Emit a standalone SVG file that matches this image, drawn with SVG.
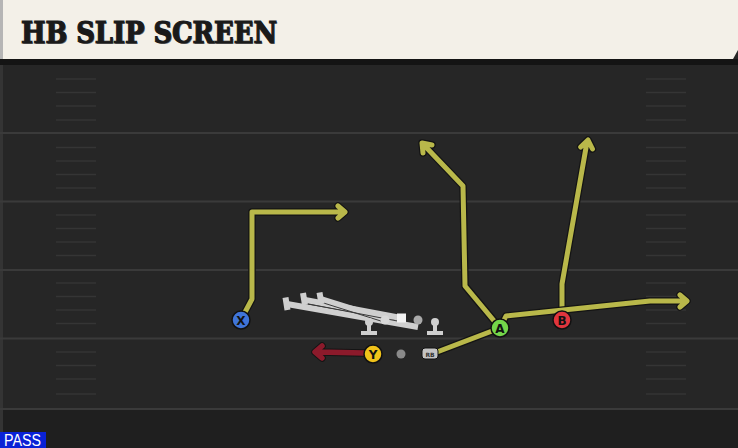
<svg xmlns="http://www.w3.org/2000/svg" width="738" height="448" viewBox="0 0 738 448">
<defs>
<style>
.yard{stroke:#3a3a3a;stroke-width:2;fill:none}
.hash{stroke:#353535;stroke-width:1.6;fill:none}
.ro{fill:none;stroke:#141414;stroke-width:7.5;stroke-linejoin:round;stroke-linecap:round}
.ry{fill:none;stroke:#b9b84a;stroke-width:5;stroke-linejoin:round;stroke-linecap:round}
.rr{fill:none;stroke:#8c1a2b;stroke-width:5.5;stroke-linejoin:round;stroke-linecap:round}
.ol{fill:none;stroke:#cfcfcf;stroke-width:6;stroke-linecap:butt}
.oll{fill:none;stroke:#3a3a3a;stroke-width:1}
.lm{fill:#cfcfcf}
.pc{stroke:#111;stroke-width:1.5}
.pl{font-family:"DejaVu Sans","Liberation Sans",sans-serif;font-weight:bold;font-size:12px;fill:#111;text-anchor:middle}
</style>
</defs>
<rect x="0" y="0" width="738" height="448" fill="#262626"/>
<rect x="0" y="409" width="738" height="39" fill="#1f1f1f"/>
<rect x="0" y="59" width="3" height="373" fill="#343434"/>
<rect x="0" y="59" width="738" height="6" fill="#141414"/>
<g id="header">
<path d="M0,0 H738 V50 L733,59 H0 Z" fill="#f3f0e8"/>
<rect x="0" y="0" width="3" height="59" fill="#b5b5b5"/>
<text x="21" y="43" font-family="DejaVu Serif, serif" font-weight="bold" font-size="29" fill="#6f6f6f" textLength="256" lengthAdjust="spacingAndGlyphs" transform="translate(1,1)">HB SLIP SCREEN</text>
<text x="21" y="43" font-family="DejaVu Serif, serif" font-weight="bold" font-size="29" fill="#1a1a1a" stroke="#1a1a1a" stroke-width="1.2" textLength="256" lengthAdjust="spacingAndGlyphs">HB SLIP SCREEN</text>
</g>
<g id="field">
<path class="yard" d="M0,133 H738 M0,201.5 H738 M0,270 H738 M0,338.5 H738 M0,409 H738"/>
<path class="hash" d="M56,79 H96 M56,92.5 H96 M56,106 H96 M56,120 H96 M56,147.5 H96 M56,161 H96 M56,174.5 H96 M56,188 H96 M56,215 H96 M56,228.5 H96 M56,242 H96 M56,255.5 H96 M56,283 H96 M56,296.5 H96 M56,310 H96 M56,323.5 H96 M56,352 H96 M56,365.5 H96 M56,379 H96 M56,394 H96"/>
<path class="hash" d="M646,79 H686 M646,92.5 H686 M646,106 H686 M646,120 H686 M646,147.5 H686 M646,161 H686 M646,174.5 H686 M646,188 H686 M646,215 H686 M646,228.5 H686 M646,242 H686 M646,255.5 H686 M646,283 H686 M646,296.5 H686 M646,310 H686 M646,323.5 H686 M646,352 H686 M646,365.5 H686 M646,379 H686 M646,394 H686"/>
</g>
<g id="connectors">
<path class="ro" d="M243,316 L252,299 L252,212 L344,212 M338,206 L345,212 L338,218"/>
<path class="ry" d="M243,316 L252,299 L252,212 L344,212 M338,206 L345,212 L338,218"/>
<path class="ro" d="M500,328 L465,286 L463,186 L423,144 M423,153 L422,143 L432,145"/>
<path class="ry" d="M500,328 L465,286 L463,186 L423,144 M423,153 L422,143 L432,145"/>
<path class="ro" d="M562,318 L562,284 L587,142 M580.7,147 L588,140 L592.5,149"/>
<path class="ry" d="M562,318 L562,284 L587,142 M580.7,147 L588,140 L592.5,149"/>
<path class="ro" d="M437,352 L500,328 L506,316 L650,301 L686,301 M680,295 L687,301 L680,307"/>
<path class="ry" d="M437,352 L500,328 L506,316 L650,301 L686,301 M680,295 L687,301 L680,307"/>
<path class="ro" d="M364,353 L318,352 M322,346 L315,352 L322,358"/>
<path class="rr" d="M364,353 L318,352 M322,346 L315,352 L322,358"/>
</g>
<g id="oline">
<path class="ol" d="M287,304 L418,327"/>
<path class="ol" d="M305,300 L401,318"/>
<path class="ol" d="M321,299 L385,319"/>
<path class="oll" d="M306,303.5 L400,321.5 M322,302.5 L384,322"/>
<path class="ol" stroke-width="4" d="M285.5,297.5 L287.5,310 M303,293 L305,305 M319.5,292.5 L321.5,304"/>
</g>
<g id="lineman1"><circle class="lm" cx="369" cy="322" r="4"/><rect class="lm" x="367" y="322" width="4" height="12"/><rect class="lm" x="361" y="331" width="16" height="4"/></g>
<g id="lineman2"><circle cx="385" cy="320" r="4.5" fill="#d8d8d8"/></g>
<g id="center"><rect x="397" y="313.5" width="9" height="9" fill="#f2f2f2"/></g>
<g id="lineman4"><circle cx="418" cy="320" r="4.5" fill="#aaaaaa"/></g>
<g id="lineman5"><circle class="lm" cx="435" cy="322" r="4"/><rect class="lm" x="433" y="322" width="4" height="12"/><rect class="lm" x="427" y="331" width="16" height="4"/></g>
<g id="qb"><circle cx="401" cy="354" r="4.5" fill="#8a8a8a"/></g>
<g id="rb"><rect x="422" y="348" width="16" height="11" rx="3" fill="#c4c4c4" stroke="#111" stroke-width="1"/><text x="430" y="356.5" font-family="DejaVu Sans, sans-serif" font-size="6" font-weight="bold" fill="#333" text-anchor="middle">RB</text></g>
<g id="X"><circle class="pc" cx="241" cy="320" r="9" fill="#3f74d8"/><text class="pl" x="241" y="324.5">X</text></g>
<g id="Y"><circle class="pc" cx="373" cy="354" r="9" fill="#f0c21a"/><text class="pl" x="373" y="358.5">Y</text></g>
<g id="A"><circle class="pc" cx="500" cy="328" r="9" fill="#74d64a"/><text class="pl" x="500" y="332.5">A</text></g>
<g id="B"><circle class="pc" cx="562" cy="320" r="9" fill="#e0353d"/><text class="pl" x="562" y="324.5">B</text></g>
<g id="pass">
<rect x="0" y="432" width="46" height="16" fill="#0a22d6"/>
<text x="4" y="446" font-family="Liberation Sans, sans-serif" font-size="16" fill="#ffffff" textLength="37" lengthAdjust="spacingAndGlyphs">PASS</text>
</g>
</svg>
